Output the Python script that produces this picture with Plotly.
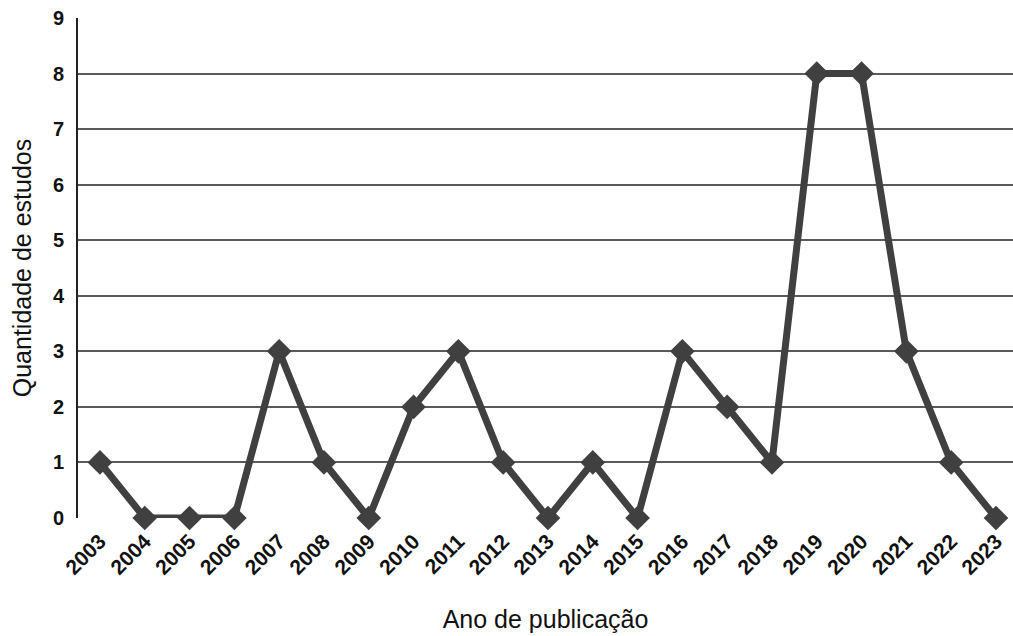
import plotly.graph_objects as go

years = [str(y) for y in range(2003, 2024)]
counts = [1, 0, 0, 0, 3, 1, 0, 2, 3, 1, 0, 1, 0, 3, 2, 1, 8, 8, 3, 1, 0]
y_ticks = list(range(0, 10))

fig = go.Figure()
fig.add_trace(go.Scatter(
    x=list(range(len(years))), y=counts, mode="lines+markers",
    line=dict(color="#404040", width=7),
    marker=dict(symbol="diamond", size=19, color="#404040"),
    cliponaxis=False, showlegend=False,
))
fig.update_layout(
    width=1013, height=636,
    margin=dict(l=78, r=0, t=18, b=118, autoexpand=False),
    paper_bgcolor="white", plot_bgcolor="white",
    font=dict(family="Liberation Sans, Arial, sans-serif", color="#111"),
    xaxis=dict(
        tickmode="array", tickvals=list(range(len(years))), ticktext=years,
        range=[-0.49, 20.38], tickangle=-45, showgrid=False, zeroline=False,
        tickfont=dict(size=21, family="Liberation Sans, Arial", weight="bold"),
        title=dict(text="Ano de publicação", font=dict(size=25), standoff=32),
        showline=False, ticks="", automargin=False, ticklabelstandoff=6,
    ),
    yaxis=dict(
        range=[0, 9], tickvals=y_ticks, showgrid=True, gridcolor="#5a5a5a",
        gridwidth=2, zeroline=False, showline=True, linecolor="#222", linewidth=2,
        tickfont=dict(size=20, family="Liberation Sans, Arial", weight="bold"),
        title=dict(text="Quantidade de estudos", font=dict(size=25), standoff=14),
        ticks="", ticklabelstandoff=8, automargin=False,
    ),
)
fig.write_html(
    "out.html",
    config={"displayModeBar": False},
    post_script="document.body.style.margin='0';document.body.style.overflow='hidden';",
)
